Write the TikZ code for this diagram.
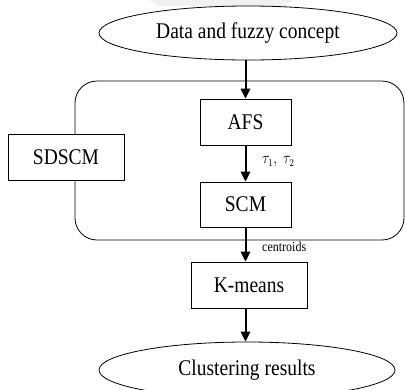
\documentclass[tikz,border=0pt]{standalone}
\usepackage{fontspec}
\setmainfont{Liberation Serif}
\usetikzlibrary{shapes.geometric,arrows.meta}
\newcommand{\vstr}[1]{\scalebox{1}[1.15]{#1}}
\begin{document}
\begin{tikzpicture}[x=1pt,y=-1pt,
  box/.style={draw,line width=0.8pt,fill=white,inner sep=0pt,font=\fontsize{19.5}{22}\selectfont},
  oval/.style={draw,ellipse,line width=0.8pt,inner sep=0pt,font=\fontsize{19.5}{22}\selectfont},
  arr/.style={line width=2pt,-{Triangle[length=10pt,width=9.5pt]}},
  lbl/.style={inner sep=0pt,font=\fontsize{12}{14}\selectfont}]
\useasboundingbox (0,0) rectangle (405,389);
% faint watermark
\fill[gray!12] (150,0) -- (292,0) -- (286,6) -- (157,6) -- cycle;
% frame
\node[draw,line width=0.8pt,rounded corners=22pt,minimum width=329pt,minimum height=159pt,inner sep=0pt] (frame) at (239.5,160.5) {};
% nodes
\node[oval,minimum width=298pt,minimum height=54pt] (data) at (248,33) {\vstr{Data and fuzzy concept}};
\node[box,minimum width=91pt,minimum height=46pt] (afs) at (245.5,122) {\vstr{AFS}};
\node[box,minimum width=91pt,minimum height=45pt] (scm) at (245.5,204.5) {\vstr{SCM}};
\node[box,minimum width=116pt,minimum height=46pt] (sdscm) at (66,157) {\vstr{SDSCM}};
\node[box,minimum width=116pt,minimum height=46pt] (km) at (249,285) {\vstr{K-means}};
\node[oval,minimum width=296pt,minimum height=56pt] (res) at (247,370) {\vstr{Clustering results}};
% arrows
\draw[arr] (data.south -| afs.north) -- (afs.north);
\draw[arr] (afs.south) -- (scm.north);
\draw[arr] (scm.south) -- (scm.south |- km.north);
\draw[arr] (km.south -| scm.south) -- (res.north -| scm.south);
% labels
\node[lbl,anchor=west,font=\fontsize{13.5}{15}\selectfont] (tau) at (262,162) {\vstr{$\tau_1,\ \tau_2$}};
\node[lbl,anchor=west] (cen) at (262,247) {\vstr{centroids}};
\end{tikzpicture}
\end{document}
